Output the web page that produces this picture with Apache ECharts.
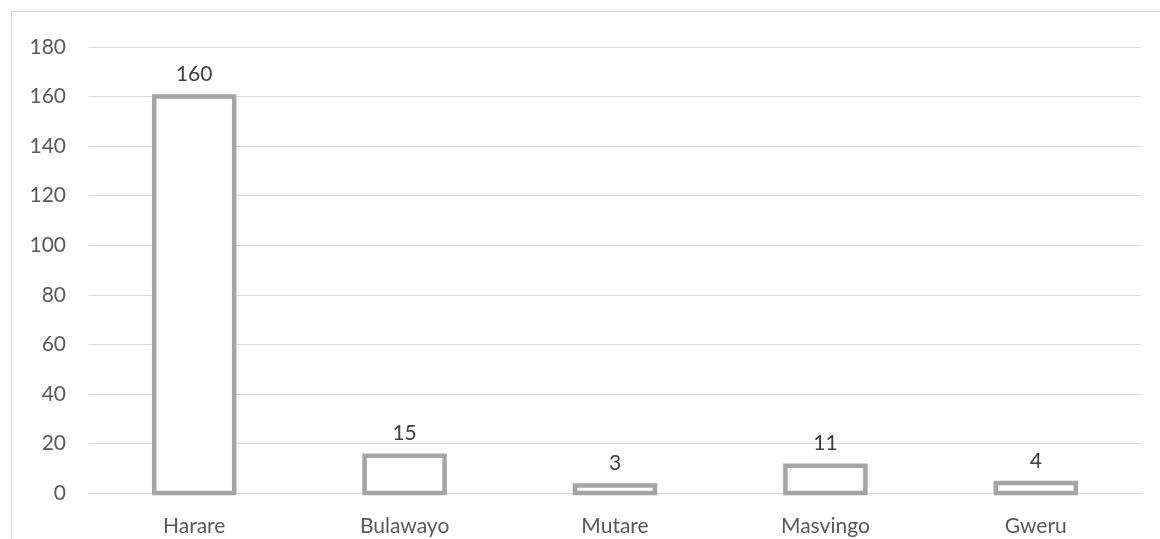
<!DOCTYPE html>
<html>
<head>
<meta charset="utf-8">
<script src="https://cdn.jsdelivr.net/npm/echarts@6/dist/echarts.min.js"></script>
<style>
  html, body { margin: 0; padding: 0; background: #ffffff; }
  #chart { width: 1160px; height: 539px; }
</style>
</head>
<body>
<div id="chart"></div>
<script>
// Cities and their counts
const cities = ['Harare', 'Bulawayo', 'Mutare', 'Masvingo', 'Gweru'];
const counts = [160, 15, 3, 11, 4];
const yTicks = { min: 0, max: 180, interval: 20 };

const FONT = 'Lato';
const BAR_W = 80;        // bar width (stroke centred on the edge)
const STROKE = 4.5;
const LABEL_GAP = 20;    // from outer bar top to label centre

const chart = echarts.init(document.getElementById('chart'), null, { renderer: 'canvas' });

// Outlined bars whose border straddles the value line, with the value above
function renderBar(params, api) {
  const idx = api.value(0);
  const v = api.value(1);
  const top = api.coord([idx, v]);
  const base = api.coord([idx, 0]);
  return {
    type: 'group',
    children: [{
      type: 'rect',
      shape: { x: top[0] - BAR_W / 2, y: top[1], width: BAR_W, height: base[1] - top[1] },
      style: { fill: '#ffffff', stroke: '#a5a5a5', lineWidth: STROKE }
    }, {
      type: 'text',
      style: {
        text: String(v),
        x: top[0],
        y: top[1] - STROKE / 2 - LABEL_GAP,
        align: 'center',
        verticalAlign: 'middle',
        fill: '#404040',
        fontFamily: FONT,
        fontSize: 21
      }
    }]
  };
}

chart.setOption({
  animation: false,
  backgroundColor: '#ffffff',
  graphic: [{
    type: 'rect',
    shape: { x: 11.5, y: 11.5, width: 1300, height: 700 },
    style: { fill: 'none', stroke: '#d9d9d9', lineWidth: 1 },
    silent: true,
    z: -1
  }],
  grid: { left: 89, right: 19, top: 47, bottom: 46, containLabel: false },
  xAxis: {
    type: 'category',
    data: cities,
    axisLine: { show: true, lineStyle: { color: '#d9d9d9', width: 1 } },
    axisTick: { show: false },
    axisLabel: { color: '#595959', fontFamily: FONT, fontSize: 21, margin: 23 }
  },
  yAxis: {
    type: 'value',
    min: yTicks.min,
    max: yTicks.max,
    interval: yTicks.interval,
    axisLine: { show: false },
    axisTick: { show: false },
    splitLine: { lineStyle: { color: '#d9d9d9', width: 1 } },
    axisLabel: { color: '#595959', fontFamily: FONT, fontSize: 21, margin: 23 }
  },
  series: [{
    type: 'custom',
    renderItem: renderBar,
    encode: { x: 0, y: 1 },
    data: counts.map((v, i) => [i, v]),
    z: 3
  }]
});
</script>
</body>
</html>
